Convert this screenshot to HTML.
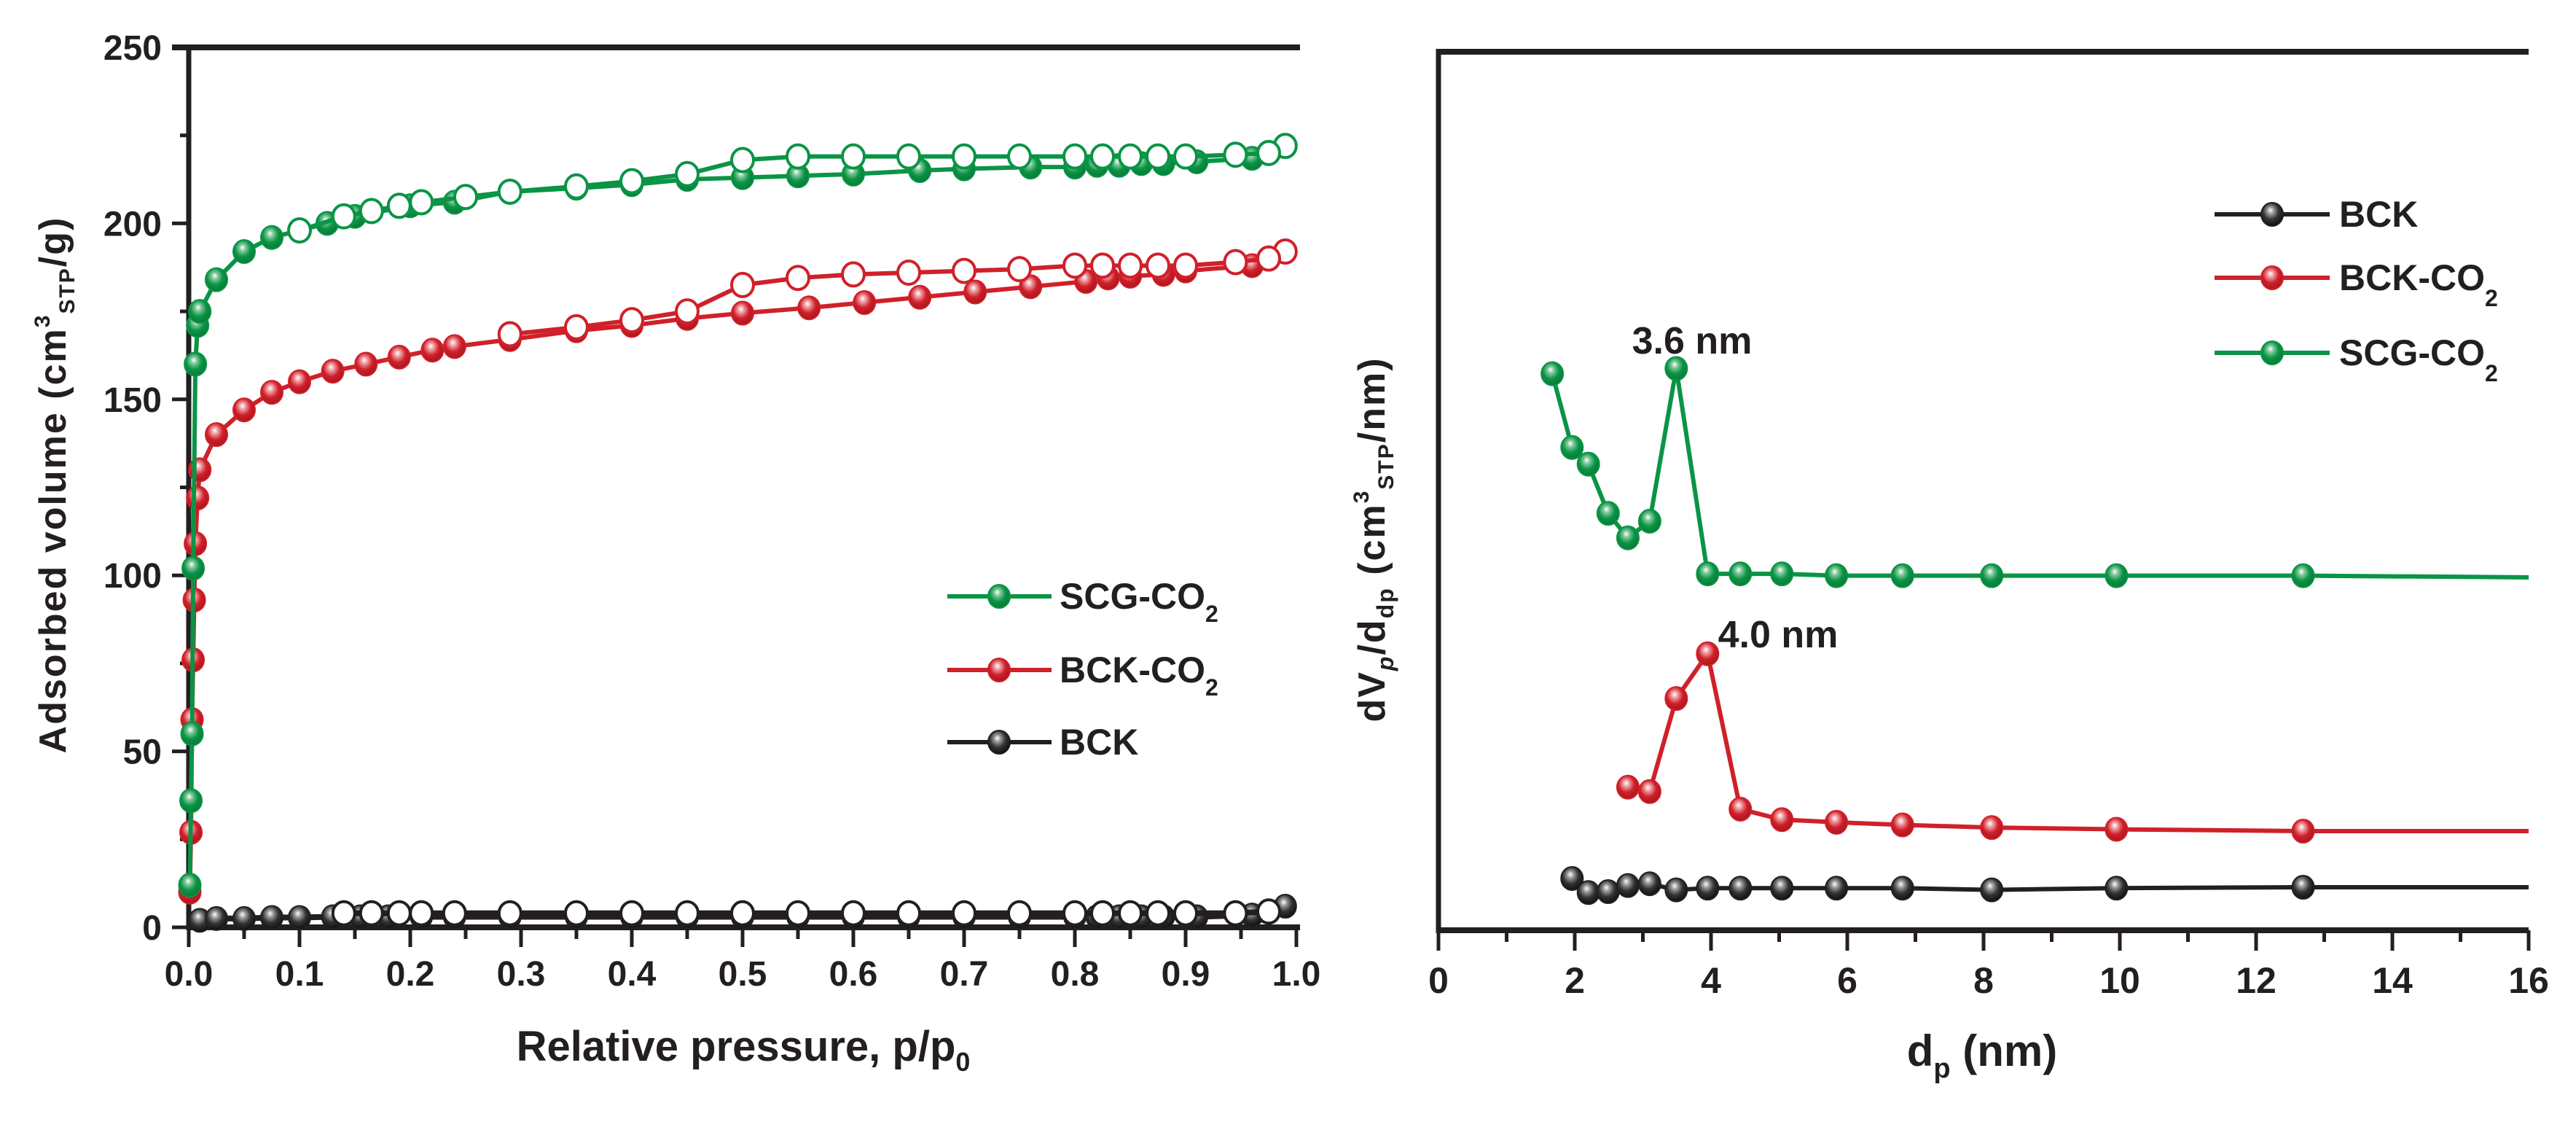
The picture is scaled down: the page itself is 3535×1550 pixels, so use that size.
<!DOCTYPE html>
<html><head><meta charset="utf-8"><style>
html,body{margin:0;padding:0;background:#fff;}
svg{display:block;}
text{font-family:"Liberation Sans Narrow","Liberation Sans",sans-serif;font-weight:bold;fill:#231f20;}
</style></head><body>
<svg id="chart" width="3535" height="1550" viewBox="0 0 3535 1550" xmlns="http://www.w3.org/2000/svg">
<defs>
<radialGradient id="gG" cx="0.45" cy="0.4" r="0.6" fx="0.42" fy="0.32"><stop offset="0" stop-color="#fff"/><stop offset="0.25" stop-color="#7fc79a"/><stop offset="0.6" stop-color="#0a9445"/><stop offset="1" stop-color="#087a38"/></radialGradient>
<radialGradient id="gR" cx="0.45" cy="0.4" r="0.6" fx="0.42" fy="0.32"><stop offset="0" stop-color="#fff"/><stop offset="0.25" stop-color="#ee9a9e"/><stop offset="0.6" stop-color="#d0202a"/><stop offset="1" stop-color="#a8161f"/></radialGradient>
<radialGradient id="gK" cx="0.45" cy="0.4" r="0.6" fx="0.42" fy="0.32"><stop offset="0" stop-color="#fff"/><stop offset="0.25" stop-color="#9a9a9a"/><stop offset="0.6" stop-color="#333"/><stop offset="1" stop-color="#111"/></radialGradient>
</defs>
<g id="left"></g>
<g id="right"></g>
</svg>
<script>
// ---- Left chart data (p/p0, adsorbed volume) ----
const gAdsP=[0.001,0.002,0.003,0.004,0.006,0.008,0.01,0.025,0.05,0.075,0.1,0.125,0.15,0.2,0.24,0.29,0.35,0.4,0.45,0.5,0.55,0.6,0.66,0.7,0.76,0.8,0.82,0.84,0.86,0.88,0.91,0.96,0.99];
const gAdsV=[12,36,55,102,160,171,175,184,192,196,198,200,202,205,206,209,210,211,212.5,213,213.5,214,215,215.5,216,216,216.5,216.5,217,217,217.5,218.5,222];
const gDesP=[0.99,0.975,0.945,0.9,0.875,0.85,0.825,0.8,0.75,0.7,0.65,0.6,0.55,0.5,0.45,0.4,0.35,0.29,0.25,0.21,0.19,0.165,0.14,0.1];
const gDesV=[222,220,219.5,219,219,219,219,219,219,219,219,219,219,218,214,212,210.5,209,207.5,206,205,203.5,202,198];
const rAdsP=[0.001,0.002,0.003,0.004,0.005,0.006,0.008,0.01,0.025,0.05,0.075,0.1,0.13,0.16,0.19,0.22,0.24,0.29,0.35,0.4,0.45,0.5,0.56,0.61,0.66,0.71,0.76,0.81,0.83,0.85,0.88,0.9,0.96,0.99];
const rAdsV=[10,27,59,76,93,109,122,130,140,147,152,155,158,160,162,164,165,167,169.5,171,173,174.5,176,177.5,179,180.5,182,183.5,184.5,185,185.5,186.5,188,192];
const rDesP=[0.99,0.975,0.945,0.9,0.875,0.85,0.825,0.8,0.75,0.7,0.65,0.6,0.55,0.5,0.45,0.4,0.35,0.29];
const rDesV=[192,190,189,188,188,188,188,188,187,186.5,186,185.5,184.5,182.5,175,172.5,170.5,168.5];
const kAdsP=[0.01,0.025,0.05,0.075,0.1,0.13,0.155,0.18,0.21,0.24,0.29,0.35,0.4,0.45,0.5,0.55,0.6,0.65,0.7,0.75,0.8,0.82,0.84,0.86,0.88,0.91,0.96,0.99];
const kAdsV=[2,2.5,2.5,2.8,2.8,3,3,3,3,3,3,3,3,3,3,3,3,3,3,3,3,3,3,3,3,3,3.5,6];
const kDesP=[0.975,0.945,0.9,0.875,0.85,0.825,0.8,0.75,0.7,0.65,0.6,0.55,0.5,0.45,0.4,0.35,0.29,0.24,0.21,0.19,0.165,0.14];
const kDesV=[4.5,4,4,4,4,4,4,4,4,4,4,4,4,4,4,4,4,4,4,4,4,4];
const leftXTicks=[0,0.1,0.2,0.3,0.4,0.5,0.6,0.7,0.8,0.9,1.0];
const leftYTicks=[0,50,100,150,200,250];
// ---- Right chart data (dp nm, dV/d arbitrary) ----
const scgD=[1.67,1.96,2.2,2.49,2.78,3.1,3.49,3.95,4.43,5.04,5.84,6.81,8.12,9.95,12.69,16];
const scgV=[63.4,55.0,53.1,47.5,44.7,46.6,64.0,40.6,40.6,40.6,40.4,40.4,40.4,40.4,40.4,40.2];
const bckco2D=[2.78,3.1,3.49,3.95,4.43,5.04,5.84,6.81,8.12,9.95,12.69,16];
const bckco2V=[16.3,15.8,26.4,31.5,13.8,12.6,12.3,12.0,11.7,11.5,11.3,11.3];
const bckD=[1.96,2.2,2.49,2.78,3.1,3.49,3.95,4.43,5.04,5.84,6.81,8.12,9.95,12.69,16];
const bckV=[5.9,4.3,4.4,5.1,5.3,4.6,4.8,4.8,4.8,4.8,4.8,4.6,4.8,4.9,4.9];
const rightXTicks=[0,2,4,6,8,10,12,14,16];

const NS="http://www.w3.org/2000/svg";
function mk(parent,tag,attrs,txt){const e=document.createElementNS(NS,tag);for(const k in attrs)e.setAttribute(k,attrs[k]);if(txt!==undefined)e.textContent=txt;parent.appendChild(e);return e;}
const GREEN="#0a9445",RED="#d0202a",BLACK="#231f20";
const L=document.getElementById('left'),R=document.getElementById('right');
const lx=p=>259+p*1520, ly=v=>1272-v*4.828;
const rx=d=>1974+d*93.5, ry=v=>1276-v*12.04;

function series(parent,xs,ys,fx,fy,color,grad,open,name,skipLast,lw){
  const pts=xs.map((x,i)=>fx(x)+','+fy(ys[i])).join(' ');
  const pl=mk(parent,'polyline',{points:pts,fill:'none',stroke:color,'stroke-width':lw||6,'stroke-linejoin':'round'});
  
  
  const n=skipLast?xs.length-1:xs.length;
  for(let i=0;i<n;i++){
    const c=mk(parent,'ellipse',{cx:fx(xs[i]),cy:fy(ys[i]),rx:15,ry:16,fill:open?'#fff':'url(#'+grad+')',stroke:color,'stroke-width':open?4:2});
    
    
  }
}
let e;
e=mk(L,'line',{x1:259,y1:1272,x2:1784,y2:1272,stroke:BLACK,'stroke-width':8});

e=mk(L,'line',{x1:259,y1:62,x2:259,y2:1276,stroke:BLACK,'stroke-width':7});

e=mk(L,'line',{x1:236,y1:65,x2:1784,y2:65,stroke:BLACK,'stroke-width':8});

for(let i=0;i<=20;i++){const p=i*0.05,maj=i%2===0;mk(L,'line',{x1:lx(p),y1:1272,x2:lx(p),y2:maj?1299:1288,stroke:BLACK,'stroke-width':5});}
leftXTicks.forEach(t=>{e=mk(L,'text',{x:lx(t),y:1352,'text-anchor':'middle','font-size':48},t.toFixed(1));});
for(let v=0;v<=250;v+=25){const maj=v%50===0;mk(L,'line',{x1:maj?236:247,y1:ly(v),x2:259,y2:ly(v),stroke:BLACK,'stroke-width':5});}
leftYTicks.forEach(t=>{e=mk(L,'text',{x:222,y:ly(t)+17,'text-anchor':'end','font-size':48},String(t));});
e=mk(L,'text',{x:1020,y:1455,'text-anchor':'middle','font-size':58},'');

e.innerHTML='Relative pressure, p/p<tspan font-size="36" dy="14">0</tspan>';
e=mk(L,'text',{transform:'translate(90,665) rotate(-90)','text-anchor':'middle','font-size':52,style:'font-family:"Liberation Sans",sans-serif;letter-spacing:2px'},'');

e.innerHTML='Adsorbed volume (cm<tspan font-size="30" dy="-22">3</tspan><tspan font-size="30" dy="34">STP</tspan><tspan dy="-12">/g)</tspan>';

series(L,kAdsP,kAdsV,lx,ly,BLACK,'gK',false,'bck-adsorption',false,8);
series(L,kDesP,kDesV,lx,ly,BLACK,'gK',true,'bck-desorption',false,8);
series(L,rAdsP,rAdsV,lx,ly,RED,'gR',false,'bck-co2-adsorption');
series(L,rDesP,rDesV,lx,ly,RED,'gR',true,'bck-co2-desorption');
series(L,gAdsP,gAdsV,lx,ly,GREEN,'gG',false,'scg-co2-adsorption');
series(L,gDesP,gDesV,lx,ly,GREEN,'gG',true,'scg-co2-desorption');

[["SCG-CO",GREEN,'gG',818,true],["BCK-CO",RED,'gR',919,true],["BCK",BLACK,'gK',1018,false]].forEach(([t,c,g,y,sub])=>{
  const gr=mk(L,'g',{});
  
  
  mk(gr,'line',{x1:1300,y1:y,x2:1443,y2:y,stroke:c,'stroke-width':6});
  mk(gr,'ellipse',{cx:1371,cy:y,rx:15,ry:16,fill:'url(#'+g+')',stroke:c,'stroke-width':2});
  const tx=mk(gr,'text',{x:1454,y:y+17,'font-size':50},'');
  tx.innerHTML=t+(sub?'<tspan font-size="32" dy="18">2</tspan>':'');
});

e=mk(R,'line',{x1:1974,y1:1276,x2:3470,y2:1276,stroke:BLACK,'stroke-width':8});

e=mk(R,'line',{x1:1974,y1:67,x2:1974,y2:1280,stroke:BLACK,'stroke-width':7});

e=mk(R,'line',{x1:1971,y1:71,x2:3470,y2:71,stroke:BLACK,'stroke-width':8});

for(let d=0;d<=16;d++){const maj=d%2===0;mk(R,'line',{x1:rx(d),y1:1276,x2:rx(d),y2:maj?1304:1292,stroke:BLACK,'stroke-width':5});}
rightXTicks.forEach(t=>{e=mk(R,'text',{x:rx(t),y:1362,'text-anchor':'middle','font-size':50},String(t));});
e=mk(R,'text',{x:2720,y:1462,'text-anchor':'middle','font-size':60},'');

e.innerHTML='d<tspan font-size="38" dy="16">p</tspan><tspan dy="-16"> (nm)</tspan>';
e=mk(R,'text',{transform:'translate(1900,740) rotate(-90)','text-anchor':'middle','font-size':52,style:'font-family:"Liberation Sans",sans-serif;letter-spacing:2px'},'');

e.innerHTML='dV<tspan font-size="32" dy="12" font-style="italic">p</tspan><tspan dy="-12">/d</tspan><tspan font-size="32" dy="12">dp</tspan><tspan dy="-12"> (cm</tspan><tspan font-size="30" dy="-22">3</tspan><tspan font-size="30" dy="34">STP</tspan><tspan dy="-12">/nm)</tspan>';

series(R,bckD,bckV,rx,ry,BLACK,'gK',false,'bck',true);
series(R,bckco2D,bckco2V,rx,ry,RED,'gR',false,'bck-co2',true);
series(R,scgD,scgV,rx,ry,GREEN,'gG',false,'scg-co2',true);

e=mk(R,'text',{x:2322,y:485,'text-anchor':'middle','font-size':52},'3.6 nm');

e=mk(R,'text',{x:2440,y:888,'text-anchor':'middle','font-size':52},'4.0 nm');


[["BCK",BLACK,'gK',294,false],["BCK-CO",RED,'gR',381,true],["SCG-CO",GREEN,'gG',484,true]].forEach(([t,c,g,y,sub])=>{
  const gr=mk(R,'g',{});
  
  
  mk(gr,'line',{x1:3039,y1:y,x2:3197,y2:y,stroke:c,'stroke-width':6});
  mk(gr,'ellipse',{cx:3118,cy:y,rx:15,ry:16,fill:'url(#'+g+')',stroke:c,'stroke-width':2});
  const tx=mk(gr,'text',{x:3210,y:y+17,'font-size':50},'');
  tx.innerHTML=t+(sub?'<tspan font-size="32" dy="22">2</tspan>':'');
});
</script>
</body></html>
